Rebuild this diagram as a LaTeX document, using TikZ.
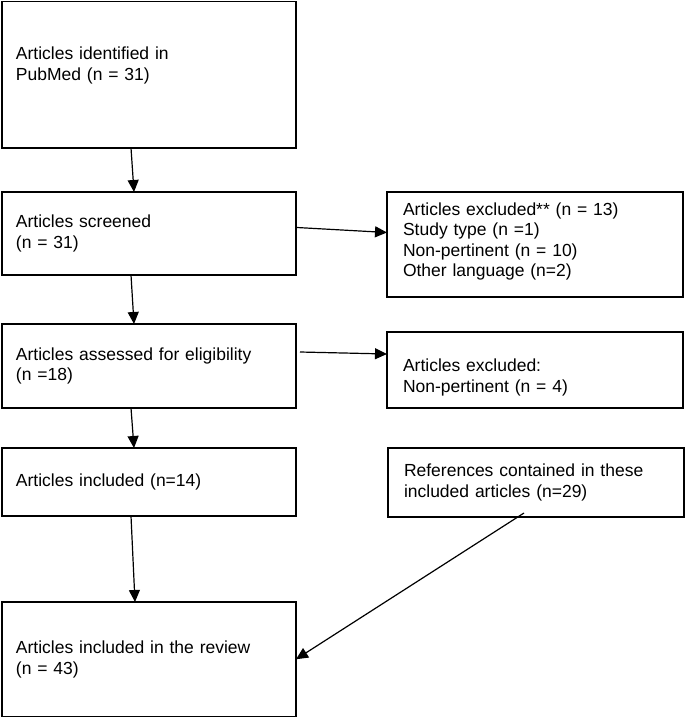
\documentclass[tikz,border=0pt]{standalone}
\usepackage{fontspec}
\setmainfont{Liberation Sans}
\usetikzlibrary{arrows.meta,positioning,calc}
\tikzset{
  boxL/.style={rectangle, draw=black, line width=1.8pt, anchor=north west, outer sep=0pt,
               align=left, text width=266pt, inner xsep=14pt, inner ysep=0pt,
               minimum width=294pt, font=\fontsize{17.5}{20.5}\selectfont},
  boxR/.style={boxL, text width=264pt, inner xsep=16pt, minimum width=296pt},
  arr/.style={-{Triangle[length=12pt,width=11pt]}, line width=1.2pt, draw=black},
}
\begin{document}
\begin{tikzpicture}[x=1pt,y=-1pt]
  \useasboundingbox (0,0) rectangle (685,718);
  % left column
  \node[boxL, minimum height=146.5pt] (ident) at (2,1.5)
    {Articles identified in\\PubMed (n = 31)\rule[-22pt]{0pt}{22pt}};
  \node[boxL, minimum height=83pt] (screen) at (2,192)
    {Articles screened\\(n = 31)};
  \node[boxL, minimum height=84pt] (elig) at (2,324)
    {Articles assessed for eligibility\\(n =18)};
  \node[boxL, minimum height=68pt] (incl) at (2,448)
    {Articles included (n=14)};
  \node[boxL, minimum height=114.5pt] (review) at (2,602)
    {Articles included in the review\\(n = 43)};
  % right column
  \node[boxR, minimum height=105pt] (excl1) at (387,192)
    {Articles excluded** (n = 13)\\Study type (n =1)\\Non-pertinent (n = 10)\\Other language (n=2)\rule[-10pt]{0pt}{10pt}};
  \node[boxR, minimum height=76pt] (excl2) at (387,332)
    {\rule{0pt}{28pt}Articles excluded:\\Non-pertinent (n = 4)};
  \node[boxR, minimum height=69pt] (refs) at (388,448)
    {References contained in these\\included articles (n=29)};
  % connectors
  \draw[arr] ([xshift=-18pt]ident.south) -- ([xshift=-15pt]screen.north);
  \draw[arr] ([xshift=-18pt]screen.south) -- ([xshift=-15pt]elig.north);
  \draw[arr] ([xshift=-18pt]elig.south) -- ([xshift=-15pt]incl.north);
  \draw[arr] ([xshift=-18pt]incl.south) -- ([xshift=-14pt]review.north);
  \draw[arr] ([xshift=1pt,yshift=6pt]screen.east) -- ([yshift=12pt]excl1.west);
  \draw[arr] ([xshift=4pt,yshift=14pt]elig.east) -- ([yshift=16pt]excl2.west);
  \draw[arr] ([xshift=-12pt,yshift=4pt]refs.south) -- (review.east);
\end{tikzpicture}
\end{document}
